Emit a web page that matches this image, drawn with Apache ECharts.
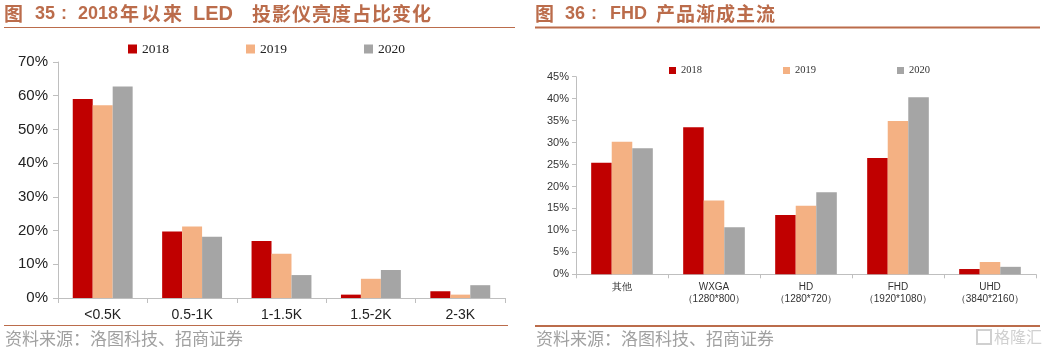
<!DOCTYPE html>
<html><head><meta charset="utf-8">
<script src="https://cdn.jsdelivr.net/npm/echarts@6/dist/echarts.min.js"></script>
<style>html,body{margin:0;padding:0;background:#fff}#c{width:1056px;height:350px}</style>
</head><body><div id="c"></div>
<script>
const years = ['2018', '2019', '2020'];
const leftCategories = ['<0.5K', '0.5-1K', '1-1.5K', '1.5-2K', '2-3K'];
const left2018 = [59.0, 19.7, 16.9, 1.0, 2.0];
const left2019 = [57.2, 21.2, 13.1, 5.7, 1.0];
const left2020 = [62.7, 18.2, 6.8, 8.3, 3.8];
const rightCategories = ['其他', 'WXGA\n（1280*800）', 'HD\n（1280*720）', 'FHD\n（1920*1080）', 'UHD\n（3840*2160）'];
const right2018 = [25.4, 33.5, 13.5, 26.5, 1.2];
const right2019 = [30.2, 16.8, 15.6, 34.9, 2.8];
const right2020 = [28.7, 10.7, 18.7, 40.3, 1.7];
const colors = ['#c00000', '#f4b183', '#a5a5a5'];
const titleColor = '#bb6c4b';

const chart = echarts.init(document.getElementById('c'));
function bars(data, gi, names) {
  return names.map((n, i) => ({
    name: n, type: 'bar', xAxisIndex: gi, yAxisIndex: gi,
    data: data[i], barGap: '0%', barCategoryGap: '33%',
    itemStyle: { color: colors[i] }, animation: false
  }));
}
// parts: [x, text, isLatin, pitch or fontSize]
function titleParts(parts) {
  const out = [];
  parts.forEach(p => {
    if (p[2]) {
      out.push({ type: 'text', x: p[0], y: 14, style: { text: p[1], fontFamily: 'Liberation Sans', fontWeight: 'bold', fontSize: p[3] || 18, fill: titleColor, textVerticalAlign: 'middle' } });
    } else {
      Array.from(p[1]).forEach((ch, i) => {
        out.push({ type: 'text', x: p[0] + i * p[3], y: 14, style: { text: ch, fontFamily: 'Noto Sans CJK SC', fontWeight: 'bold', fontSize: 19, fill: titleColor, textVerticalAlign: 'middle' } });
      });
    }
  });
  return out;
}
const axisLine = { lineStyle: { color: '#bfbfbf', width: 1 } };
chart.setOption({
  animation: false,
  legend: [
    { data: years, left: 123, top: 37, itemGap: 77, itemWidth: 9, itemHeight: 9, icon: 'rect',
      textStyle: { fontFamily: 'Liberation Serif', fontSize: 13.5, color: '#222' } },
    { data: years, left: 664, top: 60, itemGap: 81, itemWidth: 7, itemHeight: 7, icon: 'rect',
      textStyle: { fontFamily: 'Liberation Serif', fontSize: 10.5, color: '#333' } }
  ],
  grid: [
    { left: 58, top: 62, width: 447, height: 236 },
    { left: 576, top: 76.7, width: 460, height: 197.6 }
  ],
  xAxis: [
    { type: 'category', gridIndex: 0, data: leftCategories, axisLine: axisLine,
      axisTick: { show: true, length: 5, lineStyle: { color: '#bfbfbf' } },
      axisLabel: { fontFamily: 'Liberation Sans', fontSize: 14, color: '#222', margin: 10 } },
    { type: 'category', gridIndex: 1, data: rightCategories, axisLine: axisLine,
      axisTick: { show: true, length: 4, lineStyle: { color: '#bfbfbf' } },
      axisLabel: { fontFamily: 'Liberation Sans', fontSize: 10, color: '#333', margin: 7, lineHeight: 12 } }
  ],
  yAxis: [
    { type: 'value', gridIndex: 0, min: 0, max: 70, interval: 10, splitLine: { show: false },
      axisLine: { show: true, lineStyle: { color: '#bfbfbf' } },
      axisTick: { show: true, length: 5, lineStyle: { color: '#bfbfbf' } },
      axisLabel: { formatter: '{value}%', fontFamily: 'Liberation Sans', fontSize: 15, color: '#222', margin: 10 } },
    { type: 'value', gridIndex: 1, min: 0, max: 45, interval: 5, splitLine: { show: false },
      axisLine: { show: true, lineStyle: { color: '#bfbfbf' } },
      axisTick: { show: true, length: 4, lineStyle: { color: '#bfbfbf' } },
      axisLabel: { formatter: '{value}%', fontFamily: 'Liberation Sans', fontSize: 11, color: '#333', margin: 7 } }
  ],
  series: [
    ...bars([left2018, left2019, left2020], 0, years),
    ...bars([right2018, right2019, right2020], 1, years)
  ],
  graphic: [
    ...titleParts([[4, '图', 0, 20], [35, '35', 1], [61, ':', 1], [78, '2018', 1], [120, '年以来', 0, 21.5], [193, 'LED', 1, 20], [252, '投影仪亮度占比变化', 0, 20]]),
    ...titleParts([[535, '图', 0, 20], [565, '36', 1], [591, ':', 1], [610, 'FHD', 1], [656, '产品渐成主流', 0, 20]]),
    { type: 'line', shape: { x1: 4, y1: 27.5, x2: 515, y2: 27.5 }, style: { stroke: titleColor, lineWidth: 1 } },
    { type: 'line', shape: { x1: 535, y1: 27.5, x2: 1040, y2: 27.5 }, style: { stroke: titleColor, lineWidth: 2 } },
    { type: 'line', shape: { x1: 4, y1: 325.5, x2: 508, y2: 325.5 }, style: { stroke: titleColor, lineWidth: 1 } },
    { type: 'line', shape: { x1: 535, y1: 326, x2: 1040, y2: 326 }, style: { stroke: titleColor, lineWidth: 2 } },
    { type: 'text', x: 5, y: 339, style: { text: '资料来源：洛图科技、招商证券', fontFamily: 'Noto Sans CJK SC', fontSize: 17, fill: '#a0a0a0', textVerticalAlign: 'middle' } },
    { type: 'text', x: 536, y: 339, style: { text: '资料来源：洛图科技、招商证券', fontFamily: 'Noto Sans CJK SC', fontSize: 17, fill: '#a0a0a0', textVerticalAlign: 'middle' } },
    { type: 'rect', shape: { x: 977, y: 330, width: 14, height: 14 }, style: { fill: 'none', stroke: '#d0d0d0', lineWidth: 2 } },
    { type: 'text', x: 994, y: 337, style: { text: '格隆汇', fontFamily: 'Noto Sans CJK SC', fontSize: 16, fill: '#d0d0d0', textVerticalAlign: 'middle' } }
  ]
});
</script></body></html>
